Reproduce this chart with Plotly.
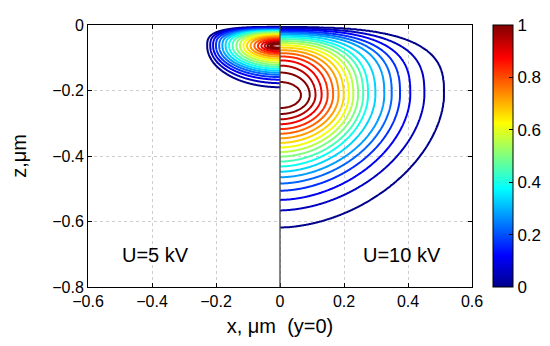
import numpy as np
import plotly.graph_objects as go

# Contour levels (inner -> outer)
LEVELS = [1.0, 0.95, 0.9, 0.85, 0.8, 0.75, 0.7, 0.65, 0.6, 0.55,
          0.5, 0.45, 0.4, 0.35, 0.3, 0.25, 0.2, 0.15, 0.1, 0.05]

# U = 10 kV (right half): centre depth and contour extents (um)
R_CENTER_Z = -0.214
R_SIDE = [0.066, 0.093, 0.111, 0.130, 0.149, 0.166, 0.183, 0.199, 0.215, 0.229,
          0.244, 0.260, 0.275, 0.298, 0.326, 0.349, 0.375, 0.407, 0.451, 0.512]
R_DOWN = [0.040, 0.058, 0.074, 0.089, 0.104, 0.118, 0.132, 0.146, 0.160, 0.174,
          0.188, 0.203, 0.218, 0.234, 0.251, 0.270, 0.292, 0.320, 0.352, 0.404]
R_UP = [0.040, 0.069, 0.090, 0.106, 0.118, 0.128, 0.137, 0.145, 0.152, 0.159,
        0.165, 0.171, 0.176, 0.181, 0.186, 0.190, 0.194, 0.199, 0.203, 0.207]

# U = 5 kV (left half)
L_CENTER_Z = -0.064
L_SIDE = [0.030, 0.039, 0.048, 0.058, 0.069, 0.080, 0.092, 0.103, 0.114, 0.125,
          0.136, 0.148, 0.159, 0.170, 0.180, 0.190, 0.200, 0.209, 0.218, 0.227]
L_DOWN = [0.005, 0.008, 0.012, 0.017, 0.022, 0.027, 0.033, 0.039, 0.045, 0.0515,
          0.058, 0.064, 0.070, 0.076, 0.082, 0.088, 0.095, 0.103, 0.1136, 0.126]
L_UP = [0.005, 0.009, 0.013, 0.017, 0.021, 0.025, 0.029, 0.032, 0.035, 0.038,
        0.041, 0.043, 0.045, 0.047, 0.049, 0.051, 0.053, 0.055, 0.0565, 0.058]

X_TICKS = [-0.6, -0.4, -0.2, 0, 0.2, 0.4, 0.6]
Z_TICKS = [-0.8, -0.6, -0.4, -0.2, 0]
CB_TICKS = [0, 0.2, 0.4, 0.6, 0.8, 1]
LABELS = ["U=5 kV", "U=10 kV"]

JET = [[0.0, "rgb(0,0,140)"], [0.12, "rgb(0,0,255)"], [0.375, "rgb(0,255,255)"],
       [0.625, "rgb(255,255,0)"], [0.875, "rgb(255,0,0)"], [1.0, "rgb(128,0,0)"]]


def build_field(xa, za, z0, side, up, down, pu_rng, pd_rng):
    X, Z = np.meshgrid(xa, za)
    n = len(LEVELS)
    frac = np.linspace(0, 1, n)[:, None, None]
    pu = pu_rng[0] + (pu_rng[1] - pu_rng[0]) * frac
    pd = pd_rng[0] + (pd_rng[1] - pd_rng[0]) * frac
    s = np.array(side)[:, None, None]
    u = np.array(up)[:, None, None]
    d = np.array(down)[:, None, None]
    ax = np.abs(X)[None]
    dz = (Z - z0)[None]
    above = dz > 0
    b = np.where(above, u, d)
    p = np.where(above, pu, pd)
    r = ((ax / s) ** p + (np.abs(dz) / b) ** p) ** (1.0 / p)
    r = np.maximum(r, 1e-9)
    g = np.log(r)
    lv = np.array(LEVELS)
    inside = g <= 0
    any_in = inside.any(0)
    k = np.argmax(inside, axis=0)
    km1 = np.clip(k - 1, 0, None)
    g_prev = np.take_along_axis(g, km1[None], 0)[0]
    g_cur = np.take_along_axis(g, k[None], 0)[0]
    t = g_prev / (g_prev - g_cur + 1e-12)
    val_shell = lv[km1] + t * (lv[k] - lv[km1])
    val_in = lv[0] + 0.04 * (1 - r[0])
    val_out = lv[-1] / r[-1] ** 2
    val = np.where(~any_in, val_out, np.where(k == 0, val_in, val_shell))
    return np.round(val, 4)


xr = np.linspace(0, 0.6, 241)
zr = np.linspace(-0.8, 0, 501)
fr = build_field(xr, zr, R_CENTER_Z, R_SIDE, R_UP, R_DOWN, (2.0, 3.0), (2.0, 1.8))

xl = np.linspace(-0.3, 0, 241)
zl = np.linspace(-0.26, 0, 341)
fl = build_field(xl, zl, L_CENTER_Z, L_SIDE, L_UP, L_DOWN, (2.0, 3.2), (2.0, 2.0))

contours = dict(coloring="lines", start=LEVELS[-1], end=LEVELS[0], size=0.05)

fig = go.Figure()
for xa, za, f in [(xl, zl, fl), (xr, zr, fr)]:
    fig.add_trace(go.Contour(
        x=xa, y=za, z=f, contours=contours, colorscale=JET, zmin=0, zmax=1,
        line=dict(width=2), showscale=False, hoverinfo="skip"))

fig.add_trace(go.Scatter(
    x=[None], y=[None], mode="markers", showlegend=False, hoverinfo="skip",
    marker=dict(color=[0], colorscale=JET, cmin=0, cmax=1, showscale=True,
                colorbar=dict(thickness=20, thicknessmode="pixels", len=1, lenmode="fraction",
                              x=1.0536, xanchor="left", y=0.5, yanchor="middle",
                              xpad=0, ypad=0, tickvals=CB_TICKS, ticks="inside",
                              ticklen=4, tickcolor="black", outlinecolor="black",
                              outlinewidth=1, tickfont=dict(size=17, color="black")))))

fig.add_shape(type="line", x0=0, x1=0, y0=-0.8, y1=0, xref="x", yref="y",
              line=dict(color="rgb(70,70,70)", width=1.3))

fig.add_annotation(x=-0.388, y=-0.703, text=LABELS[0], showarrow=False,
                   font=dict(size=20, color="black"))
fig.add_annotation(x=0.382, y=-0.703, text=LABELS[1], showarrow=False,
                   font=dict(size=20, color="black"))

axis_common = dict(ticks="inside", ticklen=4, tickcolor="black", showline=True,
                   linecolor="black", linewidth=1, mirror="ticks", showgrid=True,
                   gridcolor="rgb(205,205,205)", griddash="dot", gridwidth=1,
                   zeroline=False, automargin=False, tickfont=dict(size=16, color="black"))

fig.update_layout(
    width=550, height=346,
    margin=dict(l=80, r=78, t=17, b=67),
    paper_bgcolor="white", plot_bgcolor="white",
    font=dict(family="Liberation Sans, Arial, sans-serif", color="black"),
    xaxis=dict(range=[-0.6, 0.6], tickvals=X_TICKS,
               title=dict(text="x, μm\u00a0\u00a0(y=0)", font=dict(size=20), standoff=9),
               **axis_common),
    yaxis=dict(range=[-0.8, 0], tickvals=Z_TICKS,
               title=dict(text="z,μm", font=dict(size=20), standoff=24),
               **axis_common),
)

fig.write_html("out.html")
